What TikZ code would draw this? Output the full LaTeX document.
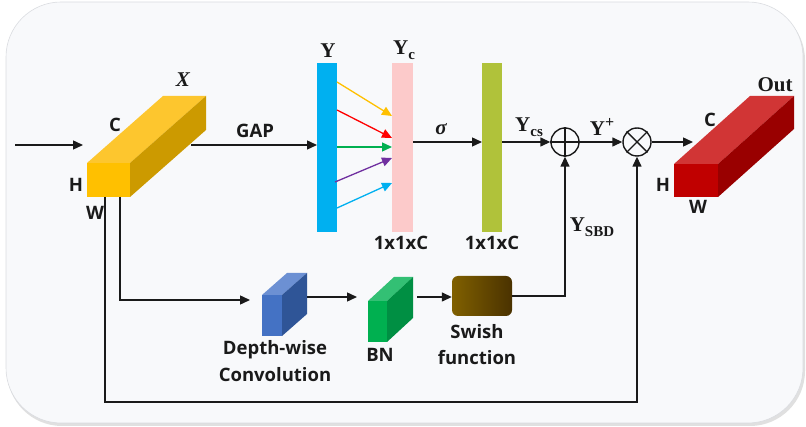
\documentclass[tikz,border=0pt]{standalone}
\usepackage{fontspec}
\setsansfont{Open Sans}
\newfontfamily\mserif{Liberation Serif}
\usetikzlibrary{arrows.meta,calc}
\definecolor{bgc}{HTML}{F8F9FB}
\definecolor{bgl}{HTML}{DADCE0}
\definecolor{yfront}{HTML}{FFC000}
\definecolor{ytop}{HTML}{FDC62E}
\definecolor{yside}{HTML}{CC9A00}
\definecolor{rfront}{HTML}{C00000}
\definecolor{rtop}{HTML}{D13535}
\definecolor{rside}{HTML}{990000}
\definecolor{bfront}{HTML}{4472C4}
\definecolor{btop}{HTML}{6C90D3}
\definecolor{bside}{HTML}{2F5597}
\definecolor{gfront}{HTML}{00B050}
\definecolor{gtop}{HTML}{33C074}
\definecolor{gside}{HTML}{008F43}
\definecolor{ybar}{HTML}{00B0F0}
\definecolor{ycbar}{HTML}{FCCACA}
\definecolor{gbar}{HTML}{B0C23A}
\definecolor{aorange}{HTML}{FFC000}
\definecolor{ared}{HTML}{FF0000}
\definecolor{agreen}{HTML}{00B050}
\definecolor{apurple}{HTML}{7030A0}
\definecolor{acyan}{HTML}{00B0F0}
\definecolor{swl}{HTML}{806000}
\definecolor{swr}{HTML}{4A3200}
\definecolor{ink}{HTML}{1A1A1A}
% x y w h dx dup front top side
\newcommand\mycuboid[9]{%
  \fill[#7] (#1,#2) rectangle ++(#3,#4);
  \fill[#8] (#1,#2) -- ++(#5,-#6) -- ++(#3,0) -- ++(-#5,#6) -- cycle;
  \fill[#9] (#1+#3,#2) -- ++(#5,-#6) -- ++(0,#4) -- ++(-#5,#6) -- cycle;
}
\newcommand\msub[1]{\raisebox{-0.25em}{\fontsize{15}{16}\selectfont #1}}
\newcommand\msup[1]{\raisebox{0.4em}{\fontsize{16}{17}\selectfont #1}}
\tikzset{
  lbl/.style={font=\sffamily\bfseries\fontsize{18.5}{21}\selectfont, inner sep=0, text=ink},
  mlbl/.style={font=\mserif\bfseries\fontsize{21}{23}\selectfont, inner sep=0, text=ink},
  conn/.style={line width=1.4pt, draw=ink},
  arr/.style={conn, -{Triangle[length=10pt,width=9pt]}},
  carr/.style={line width=1.3pt, -{Triangle[length=10pt,width=9pt]}},
  face/.style={inner sep=0, outer sep=0, anchor=north west},
  bar/.style={inner sep=0, outer sep=0, minimum height=169pt},
  sumc/.style={circle, draw=ink, line width=1.4pt, minimum size=28pt, inner sep=0, fill=bgc}
}
\begin{document}
\begin{tikzpicture}[x=1pt,y=-1pt]
\useasboundingbox (0,0) rectangle (806,427);
% background
\fill[black!12, rounded corners=55pt] (7,5) rectangle (805,426);
\filldraw[fill=bgc, draw=bgl, line width=0.6pt, rounded corners=55pt] (6,2) rectangle (803,423);

% cuboids
\mycuboid{87}{163}{43}{34}{76}{67}{yfront}{ytop}{yside}
\node[face, minimum width=43pt, minimum height=34pt] (X) at (87,163) {};
\mycuboid{674}{164}{44}{33}{76}{68}{rfront}{rtop}{rside}
\node[face, minimum width=44pt, minimum height=33pt] (OUT) at (674,164) {};
\mycuboid{262}{295}{20}{41}{25}{22}{bfront}{btop}{bside}
\node[face, minimum width=20pt, minimum height=41pt] (DW) at (262,295) {};
\mycuboid{368}{301}{19}{41}{26}{24}{gfront}{gtop}{gside}
\node[face, minimum width=19pt, minimum height=41pt] (BN) at (368,301) {};

% swish
\node[inner sep=0, minimum width=60pt, minimum height=40pt, rounded corners=6pt,
      left color=swl, right color=swr] (SW) at (482,296) {};

% bars
\node[bar, fill=ybar, minimum width=20pt] (Y) at (327,147.5) {};
\node[bar, fill=ycbar, minimum width=21pt] (YC) at (402.5,147.5) {};
\node[bar, fill=gbar, minimum width=20pt] (G) at (492,147.5) {};

% sum / product
\node[sumc] (P) at (565,142) {};
\node[sumc] (M) at (637,142) {};
\draw[line width=1.4pt, ink] (P.north) -- (P.south) (P.west) -- (P.east);
\draw[line width=1.4pt, ink] (M.north west) -- (M.south east) (M.north east) -- (M.south west);

% coordinates
\coordinate (in) at (15,145);
\coordinate (outin) at (693,142);
\coordinate (dwin) at (250,300);

% connectors
\draw[arr] (in) -- ($(X.north west)+(-4,-18)$);
\draw[arr] ($(X.north east)+(61,-18)$) -- (Y.west |- 0,145);
\draw[carr, aorange] (Y.east |- 0,82) -- (YC.west |- 0,116);
\draw[carr, ared] (Y.east |- 0,110) -- (YC.west |- 0,138);
\draw[carr, agreen] (Y.east |- 0,147) -- (YC.west |- 0,147);
\draw[carr, apurple] ($(Y.east |- 0,182)+(-2,0)$) -- (YC.west |- 0,158);
\draw[carr, acyan] (Y.east |- 0,208) -- (YC.west |- 0,183);
\draw[arr] (YC.east |- 0,142) -- (G.west |- 0,142);
\draw[arr] (G.east |- 0,142) -- (P.west);
\draw[arr] (P.east) -- (M.west);
\draw[arr] (M.east) -- (outin);
\draw[arr] ($(X.south west)+(33,0)$) |- (dwin);
\draw[arr] ($(X.south west)+(18,0)$) |- (M.south |- 0,402) -- (M.south);
\draw[arr] ($(DW.east |- 0,297)+(25,0)$) -- ($(BN.west |- 0,297)+(-11,0)$);
\draw[arr] ($(BN.east |- 0,297)+(30,0)$) -- (SW.west |- 0,297);
\draw[arr] (SW.east) -| (P.south);

% labels
\node[mlbl] at (183,80) {\itshape X};
\node[lbl] at (115,125) {C};
\node[lbl] at (76,185) {H};
\node[lbl] at (95,213) {W};
\node[lbl] at (255,131) {GAP};
\node[mlbl] at (328,51) {Y};
\node[mlbl] at (404,50) {Y\msub{c}};
\node[lbl] at (401,243) {1x1xC};
\node[lbl] at (492,243) {1x1xC};
\node[mlbl] at (441,129) {\itshape σ};
\node[mlbl] at (529,127) {Y\msub{cs}};
\node[mlbl] at (602,127) {Y\msup{+}};
\node[mlbl] at (592,227) {Y\msub{SBD}};
\node[mlbl] at (775,85) {Out};
\node[lbl] at (710,120) {C};
\node[lbl] at (663,185) {H};
\node[lbl] at (698,207) {W};
\node[lbl] at (275,350) {Depth-wise};
\node[lbl] at (275,375) {Convolution};
\node[lbl] at (380,355) {BN};
\node[lbl] at (477,332) {Swish};
\node[lbl] at (477,358) {function};
\end{tikzpicture}
\end{document}
